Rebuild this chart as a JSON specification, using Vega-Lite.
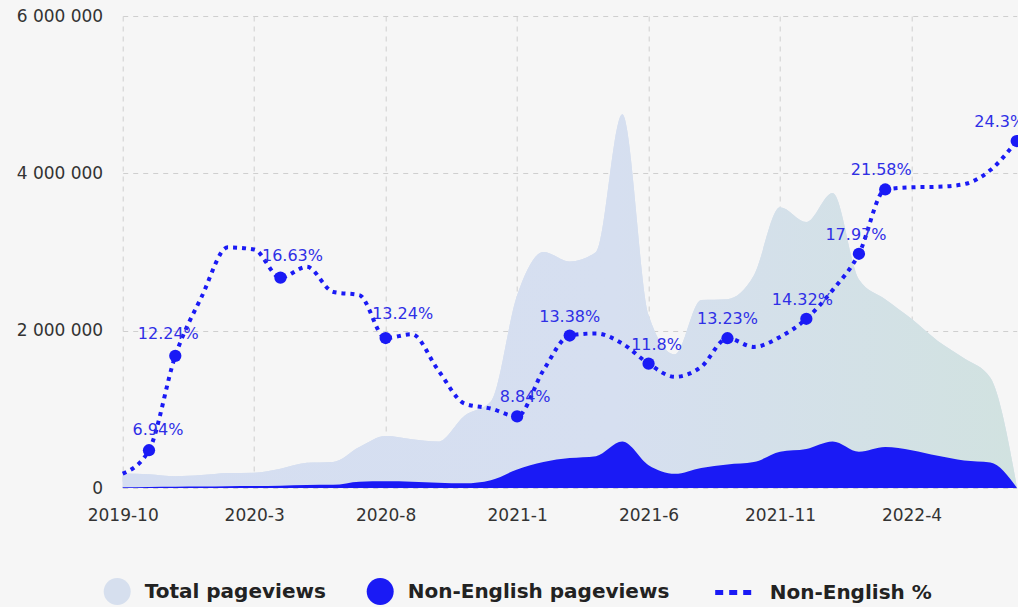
{
  "$schema": "https://vega.github.io/schema/vega-lite/v6.json",
  "width": 894,
  "height": 472,
  "autosize": {"type": "none"},
  "padding": {"left": 122.7, "top": 16, "right": 1.3, "bottom": 119},
  "background": "#f6f6f6",
  "config": {"view": {"stroke": null}, "font": "DejaVu Sans"},
  "data": {
    "values": [
      {"month": "2019-10", "total": 185000, "nonen": 8000, "pct": 5.63},
      {"month": "2019-11", "total": 175000, "nonen": 12000, "pct": 6.94},
      {"month": "2019-12", "total": 150000, "nonen": 15000, "pct": 12.24},
      {"month": "2020-1", "total": 165000, "nonen": 18000, "pct": 15.55},
      {"month": "2020-2", "total": 190000, "nonen": 22000, "pct": 18.33},
      {"month": "2020-3", "total": 195000, "nonen": 25000, "pct": 18.21},
      {"month": "2020-4", "total": 245000, "nonen": 30000, "pct": 16.63},
      {"month": "2020-5", "total": 320000, "nonen": 38000, "pct": 17.24},
      {"month": "2020-6", "total": 330000, "nonen": 40000, "pct": 15.83},
      {"month": "2020-7", "total": 520000, "nonen": 80000, "pct": 15.65},
      {"month": "2020-8", "total": 660000, "nonen": 85000, "pct": 13.24},
      {"month": "2020-9", "total": 620000, "nonen": 80000, "pct": 13.45},
      {"month": "2020-10", "total": 590000, "nonen": 68000, "pct": 11.43},
      {"month": "2020-11", "total": 920000, "nonen": 60000, "pct": 9.56},
      {"month": "2020-12", "total": 1100000, "nonen": 100000, "pct": 9.28},
      {"month": "2021-1", "total": 2450000, "nonen": 235000, "pct": 8.84},
      {"month": "2021-2", "total": 3000000, "nonen": 330000, "pct": 11.43},
      {"month": "2021-3", "total": 2880000, "nonen": 380000, "pct": 13.38},
      {"month": "2021-4", "total": 3000000, "nonen": 405000, "pct": 13.5},
      {"month": "2021-5", "total": 4750000, "nonen": 590000, "pct": 12.93},
      {"month": "2021-6", "total": 2200000, "nonen": 290000, "pct": 11.8},
      {"month": "2021-7", "total": 1700000, "nonen": 180000, "pct": 11.06},
      {"month": "2021-8", "total": 2390000, "nonen": 255000, "pct": 11.62},
      {"month": "2021-9", "total": 2400000, "nonen": 300000, "pct": 13.23},
      {"month": "2021-10", "total": 2700000, "nonen": 330000, "pct": 12.74},
      {"month": "2021-11", "total": 3570000, "nonen": 460000, "pct": 13.3},
      {"month": "2021-12", "total": 3380000, "nonen": 495000, "pct": 14.32},
      {"month": "2022-1", "total": 3750000, "nonen": 590000, "pct": 15.93},
      {"month": "2022-2", "total": 2650000, "nonen": 460000, "pct": 17.97},
      {"month": "2022-3", "total": 2400000, "nonen": 520000, "pct": 21.58},
      {"month": "2022-4", "total": 2150000, "nonen": 480000, "pct": 21.7},
      {"month": "2022-5", "total": 1870000, "nonen": 410000, "pct": 21.73},
      {"month": "2022-6", "total": 1650000, "nonen": 350000, "pct": 21.88},
      {"month": "2022-7", "total": 1400000, "nonen": 325000, "pct": 22.67},
      {"month": "2022-8", "total": 30000, "nonen": 7000, "pct": 24.3}
    ]
  },
  "encoding": {
    "x": {
      "field": "month",
      "type": "ordinal",
      "scale": {
        "type": "point",
        "padding": 0,
        "domain": ["2019-10","2019-11","2019-12","2020-1","2020-2","2020-3","2020-4","2020-5","2020-6","2020-7","2020-8","2020-9","2020-10","2020-11","2020-12","2021-1","2021-2","2021-3","2021-4","2021-5","2021-6","2021-7","2021-8","2021-9","2021-10","2021-11","2021-12","2022-1","2022-2","2022-3","2022-4","2022-5","2022-6","2022-7","2022-8"]
      },
      "axis": {
        "values": ["2019-10","2020-3","2020-8","2021-1","2021-6","2021-11","2022-4"],
        "title": null,
        "domain": false,
        "ticks": false,
        "tickSize": 0,
        "labelAngle": 0,
        "labelPadding": 19,
        "labelFontSize": 17,
        "labelFont": "DejaVu Sans",
        "labelColor": "#333333",
        "grid": true,
        "gridDash": [5, 5],
        "gridColor": "#cfcfcf",
        "gridWidth": 1
      }
    }
  },
  "layer": [
    {
      "layer": [
        {
          "mark": {"type": "area", "interpolate": "monotone", "fillOpacity": 1},
          "encoding": {
            "y": {
              "field": "total",
              "type": "quantitative",
              "scale": {"domain": [0, 6000000], "nice": false},
              "axis": {
                "values": [0, 2000000, 4000000, 6000000],
                "labelExpr": "datum.value == 0 ? '0' : format(datum.value / 1000000, 'd') + ' 000 000'",
                "title": null,
                "domain": false,
                "ticks": false,
                "tickSize": 0,
                "labelPadding": 20,
                "labelFontSize": 17,
                "labelFont": "DejaVu Sans",
                "labelColor": "#333333",
                "grid": true,
                "gridDash": [5, 5],
                "gridColor": "#cfcfcf",
                "gridWidth": 1
              }
            },
            "fill": {
              "datum": "Total pageviews",
              "type": "nominal",
              "scale": {
                "domain": ["Total pageviews", "Non-English pageviews"],
                "range": ["#d6dfee", "#1a1af5"]
              },
              "legend": {
                "orient": "none",
                "legendX": -19,
                "legendY": 562,
                "direction": "horizontal",
                "title": null,
                "padding": 0,
                "symbolType": "circle",
                "labelFontSize": 20,
                "labelFontWeight": "bold",
                "labelFont": "DejaVu Sans",
                "labelColor": "#222222",
                "labelLimit": 400,
                "labelOffset": 14,
                "columnPadding": 40,
                "symbolSize": 729,
                "symbolOpacity": 1,
                "symbolStrokeWidth": 0
              }
            }
          }
        },
        {
          "mark": {
            "type": "area",
            "interpolate": "monotone",
            "fill": {
              "gradient": "linear",
              "x1": 0, "y1": 0, "x2": 1, "y2": 0,
              "stops": [
                {"offset": 0, "color": "#d5def1"},
                {"offset": 0.55, "color": "#d6dff0"},
                {"offset": 1, "color": "#d1e2e0"}
              ]
            },
            "fillOpacity": 1
          },
          "encoding": {
            "y": {"field": "total", "type": "quantitative"}
          }
        },
        {
          "mark": {"type": "area", "interpolate": "monotone", "fillOpacity": 1},
          "encoding": {
            "y": {"field": "nonen", "type": "quantitative"},
            "fill": {"datum": "Non-English pageviews", "type": "nominal"}
          }
        }
      ]
    },
    {
      "layer": [
        {
          "mark": {
            "type": "line",
            "interpolate": "monotone",
            "strokeWidth": 4,
            "strokeDash": [4, 5],
            "strokeCap": "butt"
          },
          "encoding": {
            "y": {
              "field": "pct",
              "type": "quantitative",
              "scale": {"domain": [4.82, 31.32], "nice": false, "zero": false},
              "axis": null
            },
            "stroke": {
              "datum": "Non-English %",
              "type": "nominal",
              "scale": {"domain": ["Non-English %"], "range": ["#1a1af5"]},
              "legend": {
                "orient": "none",
                "legendX": 590,
                "legendY": 556,
                "direction": "horizontal",
                "title": null,
                "padding": 0,
                "symbolType": "stroke",
                "symbolDash": [8, 6],
                "symbolStrokeWidth": 5,
                "symbolSize": 1296,
                "labelFontSize": 20,
                "labelFontWeight": "bold",
                "labelFont": "DejaVu Sans",
                "labelColor": "#222222",
                "labelLimit": 400,
                "labelOffset": 16
              }
            }
          }
        },
        {
          "transform": [
            {"filter": "indexof(['2019-11','2019-12','2020-4','2020-8','2021-1','2021-3','2021-6','2021-9','2021-12','2022-2','2022-3','2022-8'], datum.month) >= 0"}
          ],
          "mark": {"type": "circle", "size": 150, "opacity": 1, "color": "#1a1af5"},
          "encoding": {
            "y": {"field": "pct", "type": "quantitative"}
          }
        },
        {
          "transform": [
            {"filter": "indexof(['2019-11','2019-12','2020-4','2020-8','2021-1','2021-3','2021-6','2021-9','2021-12','2022-2','2022-3','2022-8'], datum.month) >= 0"},
            {"calculate": "datum.pct + '%'", "as": "label"}
          ],
          "mark": {
            "type": "text",
            "dx": {"expr": "datum.month === '2019-11' ? 9 : datum.month === '2019-12' ? -7 : datum.month === '2020-4' ? 12 : datum.month === '2020-8' ? 17 : datum.month === '2021-1' ? 8 : datum.month === '2021-6' ? 8 : datum.month === '2021-12' ? -4 : datum.month === '2022-2' ? -3 : datum.month === '2022-3' ? -4 : datum.month === '2022-8' ? -17 : 0"},
            "dy": {"expr": "datum.month === '2020-8' ? -24 : (datum.month === '2020-4' || datum.month === '2019-12') ? -22 : datum.month === '2019-11' ? -20 : -19"},
            "fontSize": 16,
            "font": "DejaVu Sans",
            "color": "#2f2fe6",
            "align": "center",
            "baseline": "middle"
          },
          "encoding": {
            "y": {"field": "pct", "type": "quantitative"},
            "text": {"field": "label", "type": "nominal"}
          }
        }
      ]
    }
  ],
  "resolve": {"scale": {"y": "independent"}}
}
